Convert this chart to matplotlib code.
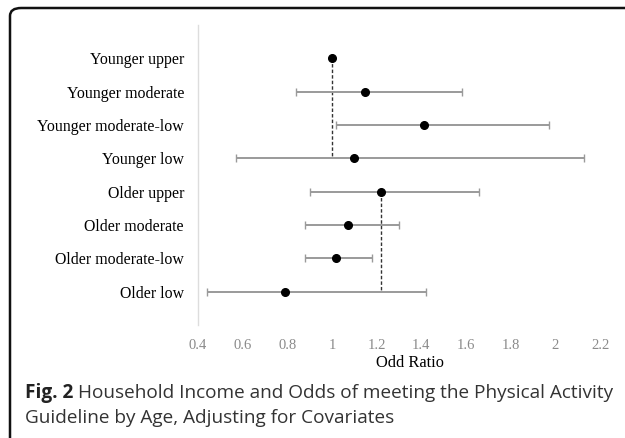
import matplotlib
matplotlib.use('Agg')
import matplotlib.pyplot as plt
from matplotlib.patches import FancyBboxPatch

# data
groups = ['Younger upper', 'Younger moderate', 'Younger moderate-low', 'Younger low',
          'Older upper', 'Older moderate', 'Older moderate-low', 'Older low']
odds = [1.00, 1.15, 1.41, 1.10, 1.22, 1.07, 1.02, 0.79]
ci_low = [1.00, 0.84, 1.02, 0.57, 0.90, 0.88, 0.88, 0.44]
ci_high = [1.00, 1.58, 1.97, 2.13, 1.66, 1.30, 1.18, 1.42]
ref_young = 1.00
ref_old = 1.22
xticks = [0.4, 0.6, 0.8, 1, 1.2, 1.4, 1.6, 1.8, 2, 2.2]

fig = plt.figure(figsize=(6.25, 4.38), dpi=100)
ax = fig.add_axes([0.3168, 0.258, 0.6432, 0.6849])

pos = list(range(1, len(groups) + 1))
err_lo = [o - l for o, l in zip(odds, ci_low)]
err_hi = [h - o for o, h in zip(odds, ci_high)]

# reference lines
ax.plot([ref_young, ref_young], [pos[0], pos[3]], color='#333333', lw=1,
        linestyle=(0, (2.5, 1.5)), zorder=1)
ax.plot([ref_old, ref_old], [pos[4], pos[7]], color='#333333', lw=1,
        linestyle=(0, (2.5, 1.5)), zorder=1)

ax.errorbar(odds, pos, xerr=[err_lo, err_hi], fmt='o', color='black',
            ecolor='#9a9a9a', elinewidth=1.4, capsize=3, capthick=1,
            markersize=5.5, zorder=3)

ax.set_xlim(0.4, 2.2)
ax.set_ylim(9, 0)
ax.set_yticks(pos)
ax.set_yticklabels(groups, fontfamily='Liberation Serif', fontsize=11.4)
ax.set_xticks(xticks)
ax.set_xticklabels([str(t) for t in xticks], fontfamily='Liberation Serif',
                   fontsize=10.5, color='#8a8a8a')
ax.tick_params(axis='both', length=0)
ax.tick_params(axis='y', pad=10)
ax.tick_params(axis='x', pad=10)
for s in ['top', 'right', 'bottom']:
    ax.spines[s].set_visible(False)
ax.spines['left'].set_color('#dddddd')
ax.spines['left'].set_linewidth(1)

fig.text(410 / 625, 1 - 363 / 438, 'Odd Ratio', ha='center', va='center',
         fontfamily='Liberation Serif', fontsize=11.8, color='black')

# caption, bold "Fig. 2" followed by regular text
cap1 = fig.text(25 / 625, 1 - 393 / 438, 'Fig. 2', fontfamily='Open Sans',
                fontweight='bold', fontsize=13.7, va='center', ha='left', color='#222222')
fig.canvas.draw()
bb = cap1.get_window_extent()
x2 = (bb.x1 + 5) / fig.bbox.width
fig.text(x2, 1 - 393 / 438, 'Household Income and Odds of meeting the Physical Activity',
         fontfamily='Open Sans', fontsize=13.7, va='center', ha='left', color='#333333')
fig.text(25 / 625, 1 - 418 / 438, 'Guideline by Age, Adjusting for Covariates',
         fontfamily='Open Sans', fontsize=13.7, va='center', ha='left', color='#333333')

# rounded frame around the panel
frame = FancyBboxPatch((10 / 625, -10 / 438), 640 / 625, 440 / 438,
                       boxstyle='round,pad=0,rounding_size=0.018',
                       transform=fig.transFigure, fill=False,
                       edgecolor='#111111', lw=1.8, clip_on=False)
fig.patches.append(frame)

fig.savefig('out.png', dpi=100)
